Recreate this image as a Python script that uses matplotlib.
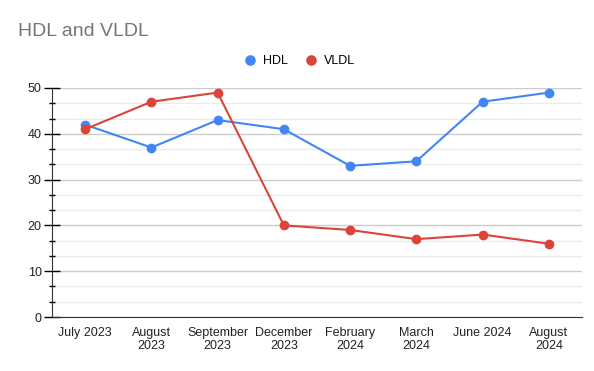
import matplotlib
matplotlib.use("Agg")
from matplotlib import pyplot as plt
from matplotlib.ticker import MultipleLocator
import numpy as np

months = ["July 2023", "August\n2023", "September\n2023", "December\n2023",
          "February\n2024", "March\n2024", "June 2024", "August\n2024"]
hdl = [42, 37, 43, 41, 33, 34, 47, 49]
vldl = [41, 47, 49, 20, 19, 17, 18, 16]

plt.rcParams['font.family'] = ['Liberation Sans', 'DejaVu Sans']

fig = plt.figure(figsize=(5.94, 3.71), dpi=100)
ax = fig.add_axes([52 / 594, 54 / 371, 530 / 594, 229 / 371])

x = np.arange(len(months))
ax.plot(x, hdl, color='#4285F4', lw=1.5, marker='o', ms=6, label='HDL', zorder=3)
ax.plot(x, vldl, color='#DB4437', lw=1.5, marker='o', ms=6, label='VLDL', zorder=4)

ax.set_xlim(-0.5, len(months) - 0.5)
ax.set_ylim(0, 50)
ax.set_xticks(x)
ax.set_xticklabels(months, fontsize=9, color='#222222', linespacing=1.1)
ax.tick_params(axis='x', length=0, pad=7)

ax.yaxis.set_major_locator(MultipleLocator(10))
ax.yaxis.set_minor_locator(MultipleLocator(10 / 3))
ax.tick_params(axis='y', which='major', direction='inout', length=11, width=1,
               labelsize=9, labelcolor='#222222', pad=2)
ax.tick_params(axis='y', which='minor', direction='inout', length=5, width=1)
ax.grid(axis='y', which='major', color='#cccccc', lw=1)
ax.grid(axis='y', which='minor', color='#ebebeb', lw=1)
ax.set_axisbelow(True)

for s in ['top', 'right']:
    ax.spines[s].set_visible(False)
ax.spines['left'].set_color('#333333')
ax.spines['bottom'].set_color('#333333')

fig.text(18 / 594, 1 - 32 / 371, "HDL and VLDL", fontsize=14, color='#757575',
         va='center', ha='left')
fig.legend(loc='center', bbox_to_anchor=(300 / 594, 1 - 61 / 371), ncol=2,
           frameon=False, fontsize=9, handlelength=0.8, handletextpad=0.6,
           columnspacing=1.5, markerscale=1.1)
leg = fig.legends[0]
for h in leg.legend_handles:
    h.set_linestyle('none')

fig.savefig("out.png", dpi=100)
